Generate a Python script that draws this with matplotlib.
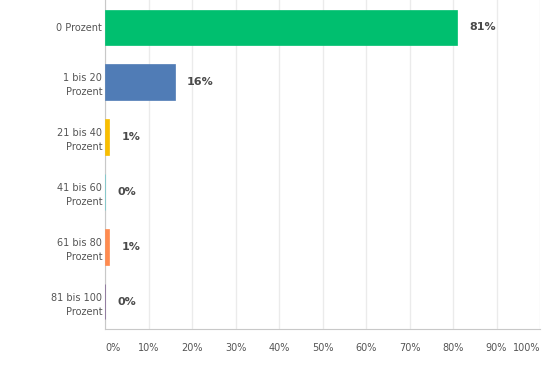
import matplotlib.pyplot as plt

categories = ['0 Prozent', '1 bis 20\nProzent', '21 bis 40\nProzent',
              '41 bis 60\nProzent', '61 bis 80\nProzent', '81 bis 100\nProzent']
values = [81, 16, 1, 0, 1, 0]
colors = ['#00BF6F', '#507CB6', '#F9BE00', '#6BC8CD', '#FF8B4F', '#7D5E90']
xticks = list(range(0, 101, 10))
xlabels = [f'{t}%' for t in xticks]

fig = plt.figure(figsize=(5.42, 3.75), dpi=100)
ax = fig.add_axes([105 / 542, 46 / 375, 435 / 542, 329 / 375])

pos = list(range(len(categories)))
ax.barh(pos, values, height=0.65, color=colors, edgecolor=colors, linewidth=0.5, zorder=3)

for p, v in zip(pos, values):
    ax.annotate(f'{v}%', (v, p), xytext=(9, 0), textcoords='offset points',
                va='center', ha='left', fontsize=8, fontweight='bold', color='#4a4a4a')

ax.set_xlim(0, 100)
ax.set_ylim(len(categories) - 0.5, -0.5)
ax.set_yticks(pos)
ax.set_yticklabels(categories, fontsize=7, color='#555555', linespacing=1.5)
ax.set_xticks(xticks)
ax.set_xticklabels(xlabels, fontsize=7, color='#555555')
ax.get_xticklabels()[0].set_ha('left')
ax.get_xticklabels()[-1].set_ha('right')
ax.tick_params(axis='x', length=0, pad=10)
ax.tick_params(axis='y', length=0, pad=2)

ax.grid(axis='x', color='#ebebeb', linewidth=1, zorder=0)
for s in ['top', 'right']:
    ax.spines[s].set_visible(False)
ax.spines['left'].set_color('#c8c8c8')
ax.spines['bottom'].set_color('#c8c8c8')

fig.savefig('out.png', dpi=100)
